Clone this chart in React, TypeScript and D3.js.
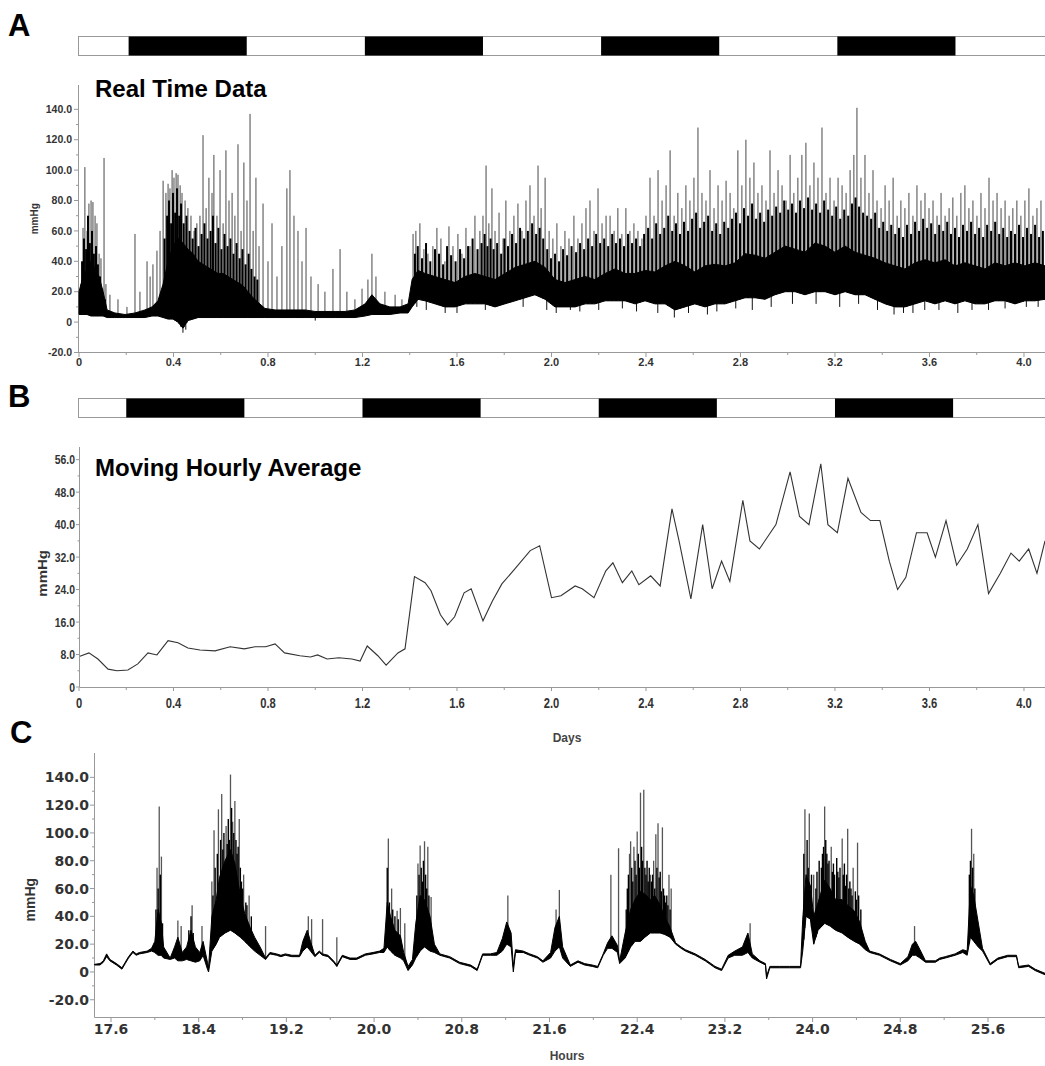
import React from 'react';
import * as d3 from 'd3';

const W = 1045;
const H = 1066;

// light/dark cycle (days)
const aDark: [number, number][] = [[0.21, 0.71], [1.21, 1.71], [2.21, 2.71], [3.21, 3.71]];
const bDark: [number, number][] = [[0.2, 0.7], [1.2, 1.7], [2.2, 2.7], [3.2, 3.7]];

const dayTicks = [0, 0.4, 0.8, 1.2, 1.6, 2.0, 2.4, 2.8, 3.2, 3.6, 4.0];
const aYTicks = [-20, 0, 20, 40, 60, 80, 100, 120, 140];
const bYTicks = [0, 8, 16, 24, 32, 40, 48, 56];
const cXTicks = [17.6, 18.4, 19.2, 20.0, 20.8, 21.6, 22.4, 23.2, 24.0, 24.8, 25.6];
const cYTicks = [-20, 0, 20, 40, 60, 80, 100, 120, 140];

// Panel A: dense envelope [day, low, high] (mmHg)
const aBand: [number, number, number][] = [
  [0, 5, 20], [0.017, 5, 30], [0.034, 5, 35], [0.051, 4, 40], [0.068, 4, 35], [0.085, 4, 30], [0.102, 4, 20],
  [0.119, 3, 8], [0.152, 3, 6], [0.195, 3, 5], [0.237, 3, 6], [0.279, 3, 8], [0.309, 4, 10], [0.334, 4, 14],
  [0.356, 3, 25], [0.377, 2, 40], [0.398, 2, 50], [0.419, 0, 55], [0.44, -4, 52], [0.461, 1, 48], [0.483, 2, 45],
  [0.504, 3, 40], [0.525, 3, 38], [0.546, 3, 36], [0.567, 3, 34], [0.588, 3, 32], [0.61, 3, 32], [0.631, 3, 30],
  [0.652, 3, 28], [0.673, 3, 26], [0.694, 3, 24], [0.715, 3, 20], [0.737, 3, 16], [0.758, 3, 13], [0.787, 3, 9],
  [0.83, 3, 8], [0.872, 3, 8], [0.914, 3, 8], [0.957, 3, 8], [0.999, 3, 7], [1.041, 3, 7], [1.084, 3, 7],
  [1.126, 3, 7], [1.168, 3, 8], [1.211, 4, 12], [1.24, 5, 18], [1.274, 5, 12], [1.316, 5, 10], [1.359, 6, 10],
  [1.393, 6, 12], [1.41, 10, 28], [1.435, 15, 34], [1.465, 14, 32], [1.507, 12, 30], [1.549, 10, 28],
  [1.592, 10, 26], [1.634, 12, 30], [1.676, 12, 32], [1.719, 12, 30], [1.761, 10, 28], [1.803, 12, 32],
  [1.846, 14, 36], [1.888, 16, 38], [1.93, 18, 40], [1.973, 15, 36], [2.015, 10, 28], [2.057, 10, 26],
  [2.1, 10, 28], [2.142, 12, 30], [2.184, 12, 28], [2.227, 14, 32], [2.269, 14, 35], [2.311, 14, 32],
  [2.354, 12, 32], [2.396, 14, 34], [2.438, 12, 33], [2.481, 12, 37], [2.523, 8, 40], [2.565, 10, 37],
  [2.607, 12, 33], [2.65, 10, 37], [2.692, 12, 38], [2.735, 12, 37], [2.777, 14, 39], [2.819, 16, 45],
  [2.862, 16, 44], [2.904, 15, 42], [2.946, 18, 46], [2.989, 20, 50], [3.031, 20, 48], [3.073, 18, 46],
  [3.115, 20, 52], [3.158, 20, 50], [3.2, 18, 46], [3.243, 20, 50], [3.285, 18, 46], [3.327, 18, 44],
  [3.369, 15, 42], [3.412, 12, 39], [3.454, 10, 37], [3.496, 10, 35], [3.539, 12, 39], [3.581, 14, 41],
  [3.623, 12, 39], [3.666, 14, 41], [3.708, 12, 37], [3.75, 14, 39], [3.793, 12, 37], [3.835, 12, 35],
  [3.877, 14, 39], [3.92, 14, 37], [3.962, 12, 39], [4.004, 14, 37], [4.047, 14, 39], [4.089, 15, 37],
];

// Panel A: tall individual spikes [day, peak mmHg]
const aSpikes: [number, number][] = [
  [0.008, 25], [0.017, 62], [0.025, 102], [0.034, 60], [0.042, 78], [0.051, 80], [0.059, 79], [0.068, 70],
  [0.076, 65], [0.085, 45], [0.093, 42], [0.106, 108], [0.114, 25],
  [0.131, 18], [0.165, 15], [0.203, 10], [0.237, 58], [0.258, 20], [0.288, 40], [0.301, 30], [0.313, 38],
  [0.33, 47], [0.343, 60],
  [0.356, 93], [0.368, 85], [0.377, 91], [0.385, 88], [0.394, 100], [0.402, 95], [0.411, 98], [0.419, 97],
  [0.428, 90], [0.436, 85], [0.449, 80], [0.461, 75], [0.474, 70], [0.487, 60], [0.499, 65], [0.512, 70],
  [0.525, 123], [0.538, 75], [0.55, 95], [0.563, 85], [0.571, 110], [0.584, 70], [0.597, 100], [0.61, 65],
  [0.622, 113], [0.635, 80], [0.648, 85], [0.66, 70], [0.673, 117], [0.686, 60], [0.698, 105], [0.711, 80],
  [0.724, 137], [0.737, 60], [0.749, 95], [0.762, 50],
  [0.779, 78], [0.8, 40], [0.817, 65], [0.838, 30], [0.859, 50], [0.88, 88], [0.893, 100], [0.91, 70],
  [0.927, 60], [0.944, 40], [0.961, 62], [0.982, 30], [1.012, 25], [1.041, 20], [1.075, 35], [1.105, 48],
  [1.134, 20], [1.168, 15], [1.198, 22], [1.223, 28], [1.24, 45], [1.257, 30], [1.295, 20], [1.338, 18],
  [1.367, 15],
  [1.414, 58], [1.426, 60], [1.443, 65], [1.46, 48], [1.477, 45], [1.498, 50], [1.515, 62], [1.532, 55],
  [1.549, 40], [1.566, 63], [1.583, 50], [1.604, 58], [1.621, 45], [1.638, 62], [1.655, 50], [1.676, 70],
  [1.697, 60], [1.71, 70], [1.723, 103], [1.735, 65], [1.748, 88], [1.761, 60], [1.778, 72], [1.795, 55],
  [1.807, 80], [1.824, 60], [1.841, 70], [1.858, 78], [1.875, 60], [1.892, 80], [1.909, 90], [1.926, 70],
  [1.943, 103], [1.956, 75], [1.973, 95], [1.99, 60], [2.006, 55], [2.023, 65], [2.04, 50], [2.057, 60],
  [2.074, 55], [2.095, 70], [2.112, 55], [2.129, 65], [2.146, 75], [2.163, 80], [2.18, 60], [2.197, 88],
  [2.214, 65], [2.231, 70], [2.248, 70], [2.265, 60], [2.281, 75], [2.298, 58], [2.315, 75], [2.332, 60],
  [2.349, 65], [2.366, 60], [2.383, 55], [2.4, 70], [2.417, 95], [2.434, 70], [2.451, 100], [2.468, 80],
  [2.485, 90], [2.502, 113], [2.519, 70], [2.535, 85], [2.552, 75], [2.569, 90], [2.586, 80], [2.603, 95],
  [2.62, 128], [2.637, 85], [2.654, 80], [2.671, 100], [2.688, 75], [2.705, 90], [2.722, 80], [2.739, 93],
  [2.756, 85], [2.772, 75], [2.789, 113], [2.806, 90], [2.823, 120], [2.84, 95], [2.857, 105], [2.874, 85],
  [2.891, 90], [2.908, 80], [2.925, 113], [2.942, 85], [2.959, 100], [2.976, 90], [2.993, 80], [3.01, 110],
  [3.026, 85], [3.043, 95], [3.06, 110], [3.077, 118], [3.094, 90], [3.111, 105], [3.128, 95], [3.145, 128],
  [3.162, 85], [3.179, 95], [3.196, 80], [3.213, 95], [3.23, 90], [3.247, 85], [3.264, 100], [3.28, 110],
  [3.293, 141], [3.31, 95], [3.327, 110], [3.344, 85], [3.361, 100], [3.378, 80], [3.395, 75], [3.412, 90],
  [3.429, 80], [3.446, 95], [3.463, 70], [3.479, 80], [3.496, 75], [3.513, 85], [3.53, 70], [3.547, 90],
  [3.564, 80], [3.581, 85], [3.598, 75], [3.615, 80], [3.632, 70], [3.649, 85], [3.666, 70], [3.683, 75],
  [3.699, 82], [3.716, 70], [3.733, 85], [3.75, 90], [3.767, 75], [3.784, 80], [3.801, 70], [3.818, 85],
  [3.835, 75], [3.852, 95], [3.869, 80], [3.886, 85], [3.903, 75], [3.92, 80], [3.937, 70], [3.953, 75],
  [3.97, 80], [3.987, 70], [4.004, 80], [4.021, 88], [4.038, 70], [4.055, 75], [4.072, 80],
];

// Panel A: dense shorter excursions between the tall spikes [day, peak mmHg]
const aMidSpikes: [number, number][] = [
  [0.004, 15], [0.013, 40], [0.021, 55], [0.03, 48], [0.038, 70], [0.046, 52], [0.055, 60], [0.063, 45],
  [0.072, 50], [0.08, 38], [0.089, 30], [0.098, 22], [0.11, 15],
  [0.362, 55], [0.373, 70], [0.381, 80], [0.39, 65], [0.398, 85], [0.407, 72], [0.415, 88], [0.424, 70],
  [0.432, 78], [0.443, 65], [0.455, 70], [0.468, 60], [0.481, 55], [0.493, 62], [0.506, 50], [0.519, 58],
  [0.531, 65], [0.544, 55], [0.557, 60], [0.567, 70], [0.578, 52], [0.59, 62], [0.603, 48], [0.616, 58],
  [0.629, 50], [0.641, 55], [0.654, 45], [0.667, 52], [0.68, 42], [0.692, 48], [0.705, 38], [0.718, 45],
  [0.73, 35], [0.743, 30], [0.755, 28],
  [1.422, 45], [1.434, 50], [1.452, 42], [1.469, 52], [1.487, 40], [1.507, 48], [1.524, 45], [1.541, 38],
  [1.558, 50], [1.575, 44], [1.594, 40], [1.613, 48], [1.63, 42], [1.647, 50], [1.666, 55], [1.687, 48],
  [1.704, 52], [1.717, 58], [1.729, 50], [1.742, 55], [1.755, 48], [1.77, 52], [1.787, 45], [1.801, 55],
  [1.816, 50], [1.833, 58], [1.85, 52], [1.867, 62], [1.884, 55], [1.9, 60], [1.918, 65], [1.935, 58],
  [1.95, 62], [1.965, 55], [1.982, 48], [1.998, 42], [2.015, 45], [2.032, 40], [2.049, 48], [2.066, 44],
  [2.085, 50], [2.104, 46], [2.121, 52], [2.138, 48], [2.155, 55], [2.172, 50], [2.189, 58], [2.206, 52],
  [2.223, 55], [2.24, 50], [2.257, 58], [2.273, 52], [2.29, 55], [2.307, 50], [2.324, 58], [2.341, 52],
  [2.358, 55], [2.375, 50], [2.392, 58], [2.409, 62], [2.426, 55], [2.443, 65], [2.46, 58], [2.477, 62],
  [2.494, 70], [2.511, 60], [2.527, 65], [2.544, 58], [2.561, 66], [2.578, 60], [2.595, 68], [2.612, 72],
  [2.629, 62], [2.646, 66], [2.663, 70], [2.68, 60], [2.697, 65], [2.714, 58], [2.731, 66], [2.748, 62],
  [2.764, 68], [2.781, 72], [2.798, 65], [2.815, 75], [2.832, 70], [2.849, 78], [2.866, 68], [2.883, 72],
  [2.9, 66], [2.917, 74], [2.934, 70], [2.951, 76], [2.968, 72], [2.985, 80], [3.002, 74], [3.018, 78],
  [3.035, 72], [3.052, 80], [3.069, 75], [3.086, 82], [3.103, 74], [3.12, 78], [3.137, 72], [3.154, 80],
  [3.171, 74], [3.188, 70], [3.205, 76], [3.222, 68], [3.239, 74], [3.256, 70], [3.272, 78], [3.287, 82],
  [3.302, 76], [3.319, 72], [3.336, 70], [3.353, 68], [3.37, 72], [3.387, 62], [3.404, 66], [3.421, 60],
  [3.438, 64], [3.455, 58], [3.471, 62], [3.488, 56], [3.505, 64], [3.522, 58], [3.539, 66], [3.556, 60],
  [3.573, 68], [3.59, 62], [3.607, 65], [3.624, 58], [3.641, 64], [3.658, 60], [3.675, 66], [3.691, 58],
  [3.708, 62], [3.725, 56], [3.742, 64], [3.759, 60], [3.776, 66], [3.793, 58], [3.81, 62], [3.827, 56],
  [3.844, 64], [3.861, 60], [3.878, 66], [3.895, 58], [3.912, 62], [3.929, 56], [3.945, 60], [3.962, 58],
  [3.979, 64], [3.996, 56], [4.013, 62], [4.03, 58], [4.047, 64], [4.064, 56], [4.08, 60],
];

// Panel A: downward excursions [day, min mmHg]
const aDips: [number, number][] = [
  [0.43, -3], [0.44, -7], [0.452, -5], [1.0, 1], [1.43, 10], [1.47, 8], [1.55, 6], [1.6, 6], [1.72, 8],
  [1.88, 10], [1.98, 8], [2.02, 6], [2.08, 8], [2.12, 7], [2.2, 8], [2.3, 9], [2.36, 7], [2.45, 6],
  [2.52, 3], [2.58, 6], [2.66, 5], [2.7, 7], [2.78, 9], [2.85, 8], [2.93, 10], [3.02, 12], [3.12, 12],
  [3.22, 10], [3.3, 12], [3.38, 8], [3.45, 5], [3.49, 6], [3.53, 6], [3.58, 8], [3.64, 8], [3.72, 6],
  [3.78, 8], [3.85, 8], [3.92, 9], [4.01, 10], [4.06, 10],
];

// Panel B: moving hourly average [day, mmHg]
const bAvg: [number, number][] = [
  [0.004, 7.6], [0.042, 8.4], [0.08, 6.9], [0.123, 4.4], [0.161, 4.0], [0.207, 4.2], [0.249, 5.7],
  [0.292, 8.4], [0.33, 7.9], [0.377, 11.4], [0.419, 10.9], [0.461, 9.6], [0.512, 9.1], [0.576, 8.9],
  [0.64, 9.9], [0.7, 9.4], [0.745, 9.9], [0.79, 9.9], [0.83, 10.6], [0.87, 8.4], [0.935, 7.7], [0.98, 7.4],
  [1.01, 7.9], [1.05, 6.9], [1.1, 7.2], [1.155, 6.9], [1.19, 6.4], [1.22, 10.1], [1.265, 7.7], [1.3, 5.4],
  [1.35, 8.4], [1.38, 9.4], [1.42, 27.2], [1.465, 25.7], [1.49, 23.7], [1.53, 17.8], [1.56, 15.3],
  [1.59, 17.3], [1.63, 23.2], [1.66, 24.2], [1.71, 16.3], [1.75, 21.2], [1.79, 25.4], [1.845, 29.1],
  [1.91, 33.6], [1.95, 34.8], [2.0, 22.0], [2.04, 22.5], [2.1, 24.9], [2.13, 24.2], [2.18, 22.0],
  [2.23, 28.6], [2.26, 30.6], [2.3, 25.7], [2.34, 28.6], [2.37, 25.2], [2.42, 27.4], [2.46, 24.9],
  [2.51, 43.9], [2.54, 36.0], [2.59, 21.7], [2.64, 40.0], [2.68, 24.2], [2.72, 31.0], [2.755, 26.0],
  [2.81, 46.0], [2.84, 36.0], [2.88, 34.0], [2.95, 40.0], [3.01, 53.0], [3.05, 42.0], [3.09, 40.0],
  [3.14, 55.0], [3.17, 40.0], [3.21, 38.0], [3.255, 51.4], [3.31, 43.0], [3.35, 41.0], [3.39, 41.0],
  [3.43, 31.0], [3.465, 24.0], [3.5, 27.0], [3.545, 38.0], [3.59, 38.0], [3.625, 32.0], [3.67, 41.0],
  [3.715, 30.0], [3.76, 34.0], [3.805, 40.0], [3.85, 23.0], [3.9, 28.0], [3.945, 33.0], [3.98, 31.0],
  [4.02, 34.0], [4.055, 28.0], [4.089, 36.0],
];

// Panel C: envelope [hour, low, high]
const cBand: [number, number, number][] = [
  [17.45, 5, 5.5], [17.5, 5, 6], [17.53, 7, 8], [17.56, 11, 13], [17.59, 8, 9], [17.61, 7, 8], [17.65, 5, 6],
  [17.7, 2, 3], [17.73, 6, 7], [17.76, 10, 11], [17.8, 14, 15], [17.83, 12, 13], [17.86, 13, 14],
  [17.93, 14, 15], [17.97, 15, 17], [18.0, 14, 22], [18.03, 12, 45], [18.06, 12, 35], [18.08, 10, 18],
  [18.14, 9, 10], [18.18, 10, 18], [18.21, 8, 25], [18.25, 8, 14], [18.29, 9, 18], [18.33, 8, 30],
  [18.37, 7, 18], [18.41, 8, 14], [18.44, 12, 22], [18.48, 2, 7], [18.49, 0, 3], [18.52, 15, 40],
  [18.56, 20, 52], [18.59, 25, 68], [18.64, 28, 80], [18.69, 30, 88], [18.73, 28, 78], [18.78, 25, 55],
  [18.82, 22, 42], [18.87, 18, 32], [18.91, 15, 25], [18.96, 12, 18], [19.01, 9, 10], [19.05, 13, 14],
  [19.11, 12, 13], [19.15, 11, 12], [19.19, 12, 13], [19.25, 11, 12], [19.32, 11, 12], [19.35, 15, 22],
  [19.39, 18, 30], [19.42, 15, 22], [19.46, 11, 12], [19.5, 14, 15], [19.53, 12, 13], [19.58, 11, 12],
  [19.63, 7, 8], [19.66, 4, 5], [19.71, 11, 12], [19.78, 9, 10], [19.84, 9, 10], [19.92, 12, 13],
  [19.99, 13, 14], [20.05, 14, 15], [20.09, 14, 17], [20.12, 18, 50], [20.15, 15, 40], [20.19, 12, 30],
  [20.24, 10, 26], [20.27, 8, 14], [20.31, 1, 4], [20.35, 5, 9], [20.38, 10, 35], [20.42, 15, 55],
  [20.46, 18, 52], [20.51, 15, 40], [20.55, 14, 20], [20.6, 12, 13], [20.69, 10, 11], [20.78, 6, 7],
  [20.88, 4, 5], [20.94, 1, 2], [20.99, 12, 13], [21.06, 12, 13], [21.12, 12, 14], [21.17, 15, 24],
  [21.21, 20, 36], [21.25, 18, 28], [21.27, 0, 4], [21.29, 14, 16], [21.36, 14, 15], [21.42, 12, 13],
  [21.49, 10, 11], [21.54, 7, 8], [21.61, 10, 14], [21.65, 15, 32], [21.69, 18, 40], [21.72, 10, 18],
  [21.79, 4, 5], [21.86, 7, 8], [21.92, 5, 6], [21.99, 4, 5], [22.04, 3, 4], [22.09, 12, 13],
  [22.13, 17, 21], [22.17, 17, 26], [22.22, 14, 19], [22.24, 6, 8], [22.29, 10, 28], [22.34, 18, 45],
  [22.38, 22, 52], [22.43, 22, 58], [22.47, 25, 56], [22.52, 28, 52], [22.56, 28, 55], [22.61, 28, 48],
  [22.65, 27, 40], [22.7, 25, 32], [22.75, 20, 21], [22.8, 17, 18], [22.84, 15, 16], [22.9, 13, 14],
  [22.93, 12, 13], [23.02, 8, 9], [23.11, 3, 4], [23.17, 1, 2], [23.23, 10, 12], [23.29, 12, 15],
  [23.36, 12, 18], [23.41, 14, 28], [23.45, 10, 13], [23.52, 7, 8], [23.57, 5, 6], [23.58, -5, -3],
  [23.61, 3, 4], [23.7, 3, 4], [23.79, 3, 4], [23.89, 3, 4], [23.91, 15, 38], [23.94, 40, 70],
  [23.98, 38, 62], [24.01, 20, 40], [24.05, 30, 50], [24.11, 35, 66], [24.16, 33, 60], [24.21, 30, 52],
  [24.27, 28, 52], [24.32, 25, 48], [24.38, 22, 44], [24.43, 20, 36], [24.48, 16, 22], [24.52, 14, 15],
  [24.61, 12, 13], [24.66, 10, 11], [24.71, 8, 9], [24.8, 5, 6], [24.87, 8, 11], [24.91, 12, 20],
  [24.94, 12, 22], [24.98, 10, 16], [25.03, 7, 8], [25.12, 7, 8], [25.16, 9, 10], [25.21, 10, 11],
  [25.3, 12, 13], [25.37, 14, 16], [25.41, 12, 15], [25.44, 25, 62], [25.47, 22, 55], [25.51, 18, 36],
  [25.55, 15, 17], [25.62, 5, 6], [25.69, 9, 10], [25.78, 11, 12], [25.86, 11, 12], [25.88, 3, 4],
  [25.97, 4, 5], [26.03, 1, 2], [26.12, -2, -1],
];

// Panel C: tall spikes [hour, peak mmHg]
const cSpikes: [number, number][] = [
  [18.02, 75], [18.04, 119], [18.06, 83], [18.21, 37], [18.24, 33], [18.34, 48], [18.43, 33], [18.52, 65],
  [18.54, 102], [18.58, 117], [18.61, 128], [18.65, 105], [18.69, 142], [18.71, 108], [18.73, 123],
  [18.77, 110], [18.81, 70], [18.86, 55], [19.01, 33], [19.4, 40], [19.43, 38], [19.53, 38], [19.66, 25],
  [20.13, 96], [20.16, 60], [20.21, 44], [20.24, 46], [20.28, 35], [20.4, 78], [20.42, 91], [20.46, 94],
  [20.49, 90], [20.52, 54], [21.22, 55], [21.66, 45], [21.69, 59], [22.16, 70], [22.23, 89], [22.33, 85],
  [22.34, 94], [22.37, 90], [22.4, 101], [22.43, 129], [22.46, 131], [22.52, 70], [22.55, 80], [22.57, 99],
  [22.59, 107], [22.63, 104], [22.69, 70], [22.71, 60], [23.43, 35], [23.93, 117], [23.97, 114],
  [24.01, 70], [24.11, 119], [24.17, 90], [24.27, 96], [24.32, 103], [24.37, 75], [24.41, 93], [24.93, 33],
  [25.45, 103], [25.47, 85],
];

// Panel C: dense shorter excursions inside bursts [hour, peak mmHg]
const cMidSpikes: [number, number][] = [
  [18.01, 45], [18.03, 60], [18.05, 70], [18.07, 35], [18.31, 30], [18.33, 40], [18.35, 28],
  [18.53, 55], [18.55, 75], [18.57, 85], [18.6, 95], [18.62, 88], [18.63, 100], [18.66, 92], [18.67, 110],
  [18.68, 95], [18.7, 118], [18.72, 100], [18.74, 95], [18.75, 85], [18.76, 90], [18.78, 75], [18.79, 65],
  [18.8, 60], [18.83, 50], [18.84, 48], [18.88, 40],
  [20.12, 75], [20.14, 50], [20.17, 45], [20.19, 40], [20.22, 38],
  [20.39, 55], [20.41, 70], [20.43, 75], [20.44, 65], [20.45, 80], [20.47, 70], [20.48, 60], [20.5, 55],
  [22.3, 45], [22.31, 60], [22.32, 70], [22.35, 75], [22.36, 65], [22.38, 80], [22.39, 70], [22.41, 85],
  [22.42, 75], [22.44, 90], [22.45, 80], [22.47, 75], [22.48, 70], [22.49, 80], [22.5, 65], [22.51, 75],
  [22.53, 65], [22.54, 70], [22.56, 60], [22.58, 75], [22.6, 68], [22.61, 72], [22.62, 58], [22.64, 60],
  [22.65, 55], [22.66, 50], [22.67, 55], [22.68, 48], [22.7, 45],
  [23.92, 85], [23.95, 95], [23.96, 75], [23.99, 70], [24.03, 60], [24.04, 72], [24.06, 80], [24.08, 75],
  [24.09, 85], [24.1, 90], [24.12, 95], [24.13, 85], [24.14, 78], [24.15, 80], [24.18, 72], [24.19, 78],
  [24.2, 70], [24.22, 82], [24.23, 72], [24.24, 68], [24.25, 75], [24.28, 70], [24.29, 78], [24.3, 62],
  [24.31, 70], [24.33, 60], [24.34, 65], [24.35, 60], [24.36, 55], [24.39, 58], [24.4, 52], [24.42, 55],
  [24.44, 45],
  [25.43, 70], [25.44, 80], [25.46, 75], [25.48, 60],
];

const FONT = "'Liberation Sans', Arial, Helvetica, sans-serif";
const WIDEFONT = "'DejaVu Sans', Verdana, sans-serif";

function lowAt(band: [number, number, number][], x: number): number {
  const i = d3.bisector((d: [number, number, number]) => d[0]).left(band, x);
  if (i <= 0) return band[0][1];
  if (i >= band.length) return band[band.length - 1][1];
  const a = band[i - 1], b = band[i];
  const t = (x - a[0]) / (b[0] - a[0] || 1);
  return a[1] + t * (b[1] - a[1]);
}

function minorBetween(ticks: number[]): number[] {
  return d3.pairs(ticks).map(([a, b]) => (a + b) / 2);
}

function LightBar({ x, y, h, dark }: { x: d3.ScaleLinear<number, number>; y: number; h: number; dark: [number, number][] }) {
  const [x0, x1] = x.range();
  return (
    <g>
      <rect x={x0 - 0.5} y={y + 0.5} width={x1 - x0 + 2} height={h} fill="#fff" stroke="#999" strokeWidth={1} />
      {dark.map(([a, b], i) => (
        <rect key={i} x={x(a)} y={y + 0.5} width={x(b) - x(a)} height={h} fill="#000" />
      ))}
    </g>
  );
}

export default function App() {
  const xA = d3.scaleLinear().domain([0, 4.089]).range([79, 1045]);
  const yA = d3.scaleLinear().domain([-20, 156]).range([352.5, 85]);
  const xB = d3.scaleLinear().domain([0, 4.089]).range([79, 1045]);
  const yB = d3.scaleLinear().domain([0, 59]).range([687, 447.5]);
  const xC = d3.scaleLinear().domain([17.445, 26.12]).range([94, 1045]);
  const yC = d3.scaleLinear().domain([-32.4, 157.5]).range([1017, 753]);

  const areaA = d3.area<[number, number, number]>().x(d => xA(d[0])).y0(d => yA(d[1])).y1(d => yA(d[2]));
  const areaC = d3.area<[number, number, number]>().x(d => xC(d[0])).y0(d => yC(d[1])).y1(d => yC(d[2]));
  const lineB = d3.line<[number, number]>().x(d => xB(d[0])).y(d => yB(d[1]));

  const axisColor = '#999';
  const labelColor = '#333';

  const aMinorY = minorBetween(aYTicks);
  const dayMinor = minorBetween(dayTicks);
  const bMinorY = minorBetween(bYTicks);
  const cMinorX = minorBetween(cXTicks);
  const cMinorY = minorBetween(cYTicks);

  return (
    <svg width={W} height={H} viewBox={`0 0 ${W} ${H}`}
      style={{ position: 'absolute', left: 0, top: 0, background: '#fff', display: 'block' }}>
      <rect x={0} y={0} width={W} height={H} fill="#fff" />

      {/* ---------- Panel A ---------- */}
      <text x={8} y={36} fontFamily={FONT} fontWeight="bold" fontSize={31} fill="#000">A</text>
      <LightBar x={xA} y={36} h={19} dark={aDark} />
      <text x={95} y={97} fontFamily={FONT} fontWeight="bold" fontSize={24} fill="#000">Real Time Data</text>

      <line x1={78.5} x2={78.5} y1={85} y2={353} stroke={axisColor} />
      <line x1={78.5} x2={1045} y1={352.5} y2={352.5} stroke={axisColor} />
      {aYTicks.map(t => (
        <g key={'ay' + t}>
          <line x1={74} x2={78.5} y1={yA(t)} y2={yA(t)} stroke={axisColor} />
          <text x={72} y={yA(t)} dy="0.35em" textAnchor="end" fontFamily={FONT} fontWeight="bold" fontSize={10.5} fill={labelColor}>
            {t === 0 ? '0' : t.toFixed(1)}
          </text>
        </g>
      ))}
      {aMinorY.map(t => (
        <line key={'aym' + t} x1={76} x2={78.5} y1={yA(t)} y2={yA(t)} stroke={axisColor} />
      ))}
      {dayTicks.map(t => (
        <g key={'ax' + t}>
          <line x1={xA(t)} x2={xA(t)} y1={352.5} y2={357} stroke={axisColor} />
          <text x={xA(t)} y={362} dy="0.35em" textAnchor="middle" fontFamily={FONT} fontWeight="bold" fontSize={11} fill={labelColor}>
            {t === 0 ? '0' : t.toFixed(1)}
          </text>
        </g>
      ))}
      {dayMinor.map(t => (
        <line key={'axm' + t} x1={xA(t)} x2={xA(t)} y1={352.5} y2={355} stroke={axisColor} />
      ))}
      <text transform={`translate(38,${yA(68)}) rotate(-90)`} textAnchor="middle" fontFamily={FONT} fontWeight="bold" fontSize={10} fill={labelColor}>mmHg</text>

      <g>
        {aSpikes.map(([d, p], i) => (
          <line key={'as' + i} x1={xA(d)} x2={xA(d)} y1={yA(lowAt(aBand, d))} y2={yA(p)} stroke="#333" strokeWidth={0.9} />
        ))}
        {aMidSpikes.map(([d, p], i) => (
          <line key={'am' + i} x1={xA(d)} x2={xA(d)} y1={yA(lowAt(aBand, d))} y2={yA(p)} stroke="#000" strokeWidth={2} />
        ))}
        {aDips.map(([d, m], i) => (
          <line key={'ad' + i} x1={xA(d)} x2={xA(d)} y1={yA(lowAt(aBand, d) + 3)} y2={yA(m)} stroke="#111" strokeWidth={1} />
        ))}
        <path d={areaA(aBand) || ''} fill="#000" stroke="#000" strokeWidth={1} />
      </g>

      {/* ---------- Panel B ---------- */}
      <text x={8} y={407} fontFamily={FONT} fontWeight="bold" fontSize={31} fill="#000">B</text>
      <LightBar x={xB} y={398} h={19} dark={bDark} />
      <text x={95} y={476} fontFamily={FONT} fontWeight="bold" fontSize={24} fill="#000">Moving Hourly Average</text>

      <line x1={79.5} x2={79.5} y1={447} y2={687.5} stroke={axisColor} />
      <line x1={79.5} x2={1045} y1={687.5} y2={687.5} stroke={axisColor} />
      {bYTicks.map(t => (
        <g key={'by' + t}>
          <line x1={76} x2={79.5} y1={yB(t)} y2={yB(t)} stroke={axisColor} />
          <text transform={`translate(75,${yB(t)}) scale(0.8,1)`} dy="0.35em" textAnchor="end" fontFamily={FONT} fontWeight="bold" fontSize={13} fill={labelColor}>
            {t === 0 ? '0' : t.toFixed(1)}
          </text>
        </g>
      ))}
      {bMinorY.map(t => (
        <line key={'bym' + t} x1={77.5} x2={79.5} y1={yB(t)} y2={yB(t)} stroke={axisColor} />
      ))}
      {dayTicks.map(t => (
        <g key={'bx' + t}>
          <line x1={xB(t)} x2={xB(t)} y1={687.5} y2={691} stroke={axisColor} />
          <text transform={`translate(${xB(t)},703) scale(0.8,1)`} dy="0.35em" textAnchor="middle" fontFamily={FONT} fontWeight="bold" fontSize={14} fill={labelColor}>
            {t === 0 ? '0' : t.toFixed(1)}
          </text>
        </g>
      ))}
      {dayMinor.map(t => (
        <line key={'bxm' + t} x1={xB(t)} x2={xB(t)} y1={687.5} y2={690} stroke={axisColor} />
      ))}
      <text transform={`translate(47,${yB(28)}) rotate(-90) scale(1,0.85)`} textAnchor="middle" fontFamily={FONT} fontWeight="bold" fontSize={15} fill={labelColor}>mmHg</text>
      <text x={567} y={742} textAnchor="middle" fontFamily={FONT} fontWeight="bold" fontSize={12} fill="#444">Days</text>

      <path d={lineB(bAvg) || ''} fill="none" stroke="#333" strokeWidth={1.1} />

      {/* ---------- Panel C ---------- */}
      <text x={10} y={743} fontFamily={FONT} fontWeight="bold" fontSize={31} fill="#000">C</text>

      <line x1={94.5} x2={94.5} y1={753} y2={1017.5} stroke={axisColor} />
      <line x1={94.5} x2={1045} y1={1017.5} y2={1017.5} stroke={axisColor} />
      {cYTicks.map(t => (
        <g key={'cy' + t}>
          <line x1={90} x2={94.5} y1={yC(t)} y2={yC(t)} stroke={axisColor} />
          <text x={89} y={yC(t)} dy="0.36em" textAnchor="end" fontFamily={WIDEFONT} fontWeight="bold" fontSize={14} fill={labelColor}>
            {t === 0 ? '0' : t.toFixed(1)}
          </text>
        </g>
      ))}
      {cMinorY.map(t => (
        <line key={'cym' + t} x1={92} x2={94.5} y1={yC(t)} y2={yC(t)} stroke={axisColor} />
      ))}
      {cXTicks.map(t => (
        <g key={'cx' + t}>
          <line x1={xC(t)} x2={xC(t)} y1={1017.5} y2={1022} stroke={axisColor} />
          <text x={xC(t)} y={1034} textAnchor="middle" fontFamily={WIDEFONT} fontWeight="bold" fontSize={14} fill={labelColor}>
            {t.toFixed(1)}
          </text>
        </g>
      ))}
      {cMinorX.map(t => (
        <line key={'cxm' + t} x1={xC(t)} x2={xC(t)} y1={1017.5} y2={1020} stroke={axisColor} />
      ))}
      <text transform={`translate(35,${yC(52)}) rotate(-90)`} textAnchor="middle" fontFamily={FONT} fontWeight="bold" fontSize={14} fill={labelColor}>mmHg</text>
      <text x={567} y={1060} textAnchor="middle" fontFamily={FONT} fontWeight="bold" fontSize={12} fill="#444">Hours</text>

      <g>
        {cSpikes.map(([h, p], i) => (
          <line key={'cs' + i} x1={xC(h)} x2={xC(h)} y1={yC(lowAt(cBand, h))} y2={yC(p)} stroke="#555" strokeWidth={1.3} />
        ))}
        {cMidSpikes.map(([h, p], i) => (
          <line key={'cm' + i} x1={xC(h)} x2={xC(h)} y1={yC(lowAt(cBand, h))} y2={yC(p)} stroke="#000" strokeWidth={1.4} />
        ))}
        <path d={areaC(cBand) || ''} fill="#000" stroke="#000" strokeWidth={1} strokeLinejoin="round" />
      </g>
    </svg>
  );
}
